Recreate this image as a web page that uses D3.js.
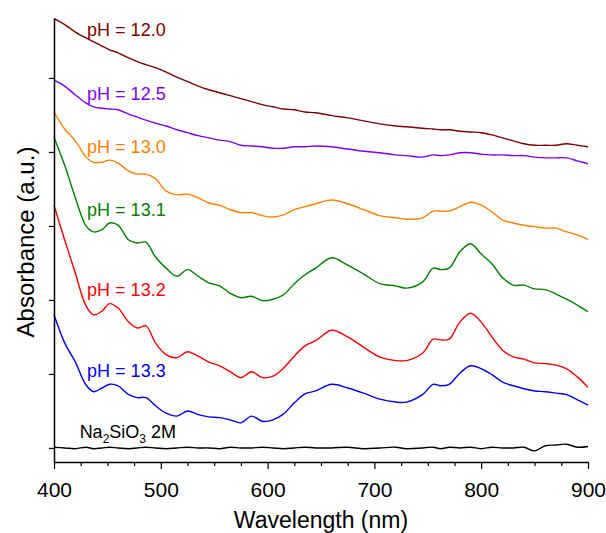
<!DOCTYPE html>
<html>
<head>
<meta charset="utf-8">
<script src="https://cdn.jsdelivr.net/npm/d3@7/dist/d3.min.js"></script>
<style>
	body { margin: 0; background: #ffffff; }
	svg text { font-family: 'Liberation Sans', Arial, sans-serif; }
</style>
</head>
<body>
<svg id="chart" width="606" height="533"></svg>
<script>
// Wavelength grid (nm) shared by every spectrum
const wavelengths = [
	400, 410, 420, 430, 437, 445, 452, 460, 470, 478,
	486, 495, 505, 515, 525, 535, 545, 555, 565, 575,
	585, 595, 605, 615, 625, 635, 645, 660, 675, 690,
	705, 720, 730, 745, 755, 762, 770, 780, 790, 800,
	810, 820, 830, 840, 850, 860, 870, 880, 890, 900
];

// Stacked absorbance spectra (a.u., offset for display)
const ph120 = [
	5.80, 5.72, 5.62, 5.54, 5.49, 5.43, 5.38, 5.34, 5.27, 5.22,
	5.18, 5.14, 5.08, 5.01, 4.95, 4.89, 4.84, 4.80, 4.76, 4.72,
	4.68, 4.64, 4.61, 4.58, 4.57, 4.54, 4.53, 4.49, 4.46, 4.42,
	4.38, 4.35, 4.34, 4.32, 4.31, 4.30, 4.30, 4.28, 4.27, 4.26,
	4.23, 4.19, 4.15, 4.11, 4.09, 4.09, 4.09, 4.11, 4.09, 4.07
];
const ph125 = [
	4.97, 4.89, 4.77, 4.66, 4.61, 4.59, 4.58, 4.57, 4.51, 4.47,
	4.43, 4.39, 4.35, 4.30, 4.26, 4.22, 4.19, 4.16, 4.14, 4.09,
	4.08, 4.07, 4.05, 4.05, 4.07, 4.07, 4.08, 4.07, 4.04, 4.01,
	3.99, 3.96, 3.95, 3.93, 3.96, 3.95, 3.96, 3.99, 3.99, 3.97,
	3.96, 3.96, 3.95, 3.95, 3.93, 3.92, 3.92, 3.92, 3.88, 3.84
];
const ph130 = [
	4.54, 4.31, 4.15, 3.93, 3.86, 3.86, 3.89, 3.85, 3.74, 3.70,
	3.70, 3.64, 3.47, 3.42, 3.43, 3.38, 3.31, 3.28, 3.22, 3.18,
	3.18, 3.14, 3.12, 3.15, 3.22, 3.26, 3.30, 3.35, 3.30, 3.22,
	3.14, 3.11, 3.09, 3.11, 3.20, 3.20, 3.20, 3.26, 3.32, 3.28,
	3.19, 3.08, 3.04, 3.01, 2.99, 2.97, 2.97, 2.92, 2.88, 2.82
];
const ph131 = [
	4.20, 3.82, 3.38, 3.00, 2.92, 2.95, 3.04, 3.01, 2.81, 2.77,
	2.78, 2.58, 2.43, 2.32, 2.41, 2.32, 2.23, 2.19, 2.09, 2.03,
	2.05, 1.99, 2.01, 2.07, 2.22, 2.34, 2.43, 2.57, 2.47, 2.35,
	2.22, 2.19, 2.16, 2.24, 2.43, 2.41, 2.43, 2.65, 2.76, 2.62,
	2.49, 2.30, 2.20, 2.20, 2.15, 2.14, 2.08, 2.01, 1.93, 1.84
];
const ph132 = [
	3.28, 2.81, 2.36, 1.92, 1.80, 1.85, 1.95, 1.89, 1.70, 1.62,
	1.65, 1.42, 1.26, 1.22, 1.30, 1.24, 1.16, 1.11, 1.03, 0.95,
	1.03, 0.95, 0.97, 1.08, 1.24, 1.38, 1.45, 1.59, 1.50, 1.36,
	1.23, 1.18, 1.18, 1.28, 1.47, 1.46, 1.47, 1.70, 1.82, 1.70,
	1.50, 1.32, 1.23, 1.20, 1.15, 1.14, 1.12, 1.07, 0.96, 0.82
];
const ph133 = [
	1.80, 1.42, 1.16, 0.85, 0.76, 0.81, 0.86, 0.84, 0.72, 0.68,
	0.68, 0.57, 0.47, 0.43, 0.50, 0.45, 0.42, 0.41, 0.38, 0.34,
	0.43, 0.36, 0.38, 0.46, 0.61, 0.73, 0.77, 0.86, 0.81, 0.74,
	0.66, 0.62, 0.62, 0.72, 0.86, 0.84, 0.86, 1.01, 1.11, 1.07,
	0.99, 0.89, 0.84, 0.80, 0.77, 0.76, 0.74, 0.72, 0.65, 0.58
];
const silicate = [
	0.01, 0.00, -0.01, 0.01, -0.01, 0.00, 0.01, 0.00, -0.01, 0.00,
	0.01, 0.00, -0.01, 0.00, 0.01, 0.00, 0.00, -0.01, 0.01, 0.00,
	0.00, 0.01, 0.00, -0.01, 0.00, 0.01, 0.00, 0.00, 0.01, -0.01,
	0.00, 0.01, -0.01, 0.00, 0.01, -0.01, 0.01, 0.00, 0.01, -0.01,
	0.01, 0.00, 0.00, 0.01, -0.04, 0.03, 0.04, 0.05, 0.01, 0.02
];

const seriesLabels = ['pH = 12.0', 'pH = 12.5', 'pH = 13.0', 'pH = 13.1', 'pH = 13.2', 'pH = 13.3'];
const xTickValues = [400, 500, 600, 700, 800, 900];
const yTickValues = [0, 1, 2, 3, 4, 5];

// Series table built from the arrays above
const series = [
	{ label: seriesLabels[0], values: ph120, color: '#800000', at: [431, 5.57] },
	{ label: seriesLabels[1], values: ph125, color: '#8000ff', at: [431, 4.70] },
	{ label: seriesLabels[2], values: ph130, color: '#ff8000', at: [431, 3.99] },
	{ label: seriesLabels[3], values: ph131, color: '#008000', at: [431, 3.14] },
	{ label: seriesLabels[4], values: ph132, color: '#ff0000', at: [431, 2.05] },
	{ label: seriesLabels[5], values: ph133, color: '#0000ff', at: [431, 0.96] },
	{ label: null, values: silicate, color: '#000000' }
];

const svg = d3.select('#chart');
const plot = { left: 54, right: 588, top: 18, bottom: 462 };

const x = d3.scaleLinear().domain([400, 900]).range([plot.left, plot.right]);
const y = d3.scaleLinear().domain([-0.19, 5.81]).range([plot.bottom, plot.top]);

// Spectra (smooth curve through the sampled points)
const line = d3.line()
	.x((d) => x(d[0]))
	.y((d) => y(d[1]))
	.curve(d3.curveCatmullRom.alpha(0.5));

svg.append('g')
	.selectAll('path')
	.data(series)
	.enter()
	.append('path')
	.attr('fill', 'none')
	.attr('stroke', (d) => d.color)
	.attr('stroke-width', 1.4)
	.attr('stroke-linejoin', 'round')
	.attr('d', (d) => line(wavelengths.map((w, i) => [w, d.values[i]])));

// Curve labels
svg.append('g')
	.selectAll('text')
	.data(series.filter((d) => d.label))
	.enter()
	.append('text')
	.attr('x', (d) => x(d.at[0]))
	.attr('y', (d) => y(d.at[1]))
	.attr('font-size', 18)
	.attr('fill', (d) => d.color)
	.text((d) => d.label);

// Na2SiO3 label with subscripts
const naLabel = svg.append('text')
	.attr('x', x(424))
	.attr('y', y(0.135))
	.attr('font-size', 18)
	.attr('fill', '#000');
naLabel.append('tspan').text('Na');
naLabel.append('tspan').attr('font-size', 12).attr('dy', 5).text('2');
naLabel.append('tspan').attr('dy', -5).text('SiO');
naLabel.append('tspan').attr('font-size', 12).attr('dy', 5).text('3');
naLabel.append('tspan').attr('dy', -5).text(' 2M');

// X axis: major and minor ticks
const minorTicks = d3.range(425, 900, 25).filter((v) => v % 100 !== 0);

svg.append('g')
	.attr('transform', `translate(0,${plot.bottom})`)
	.call(d3.axisBottom(x).tickValues(minorTicks).tickSize(4).tickSizeOuter(0).tickFormat(''))
	.call((g) => g.select('.domain').remove())
	.call((g) => g.selectAll('line').attr('stroke-width', 1.2));

const xAxis = svg.append('g')
	.attr('transform', `translate(0,${plot.bottom})`)
	.call(d3.axisBottom(x).tickValues(xTickValues).tickSize(7).tickSizeOuter(0).tickPadding(13));
xAxis.select('.domain').attr('stroke-width', 1.5);
xAxis.selectAll('line').attr('stroke-width', 1.2);
xAxis.selectAll('text')
	.attr('font-size', 21)
	.attr('font-family', "'Liberation Sans', Arial, sans-serif")
	.attr('fill', '#000');

// Y axis: unlabeled ticks
const yAxis = svg.append('g')
	.attr('transform', `translate(${plot.left},0)`)
	.call(d3.axisLeft(y).tickValues(yTickValues).tickSize(5).tickSizeOuter(0).tickFormat(''));
yAxis.select('.domain').attr('stroke-width', 1.5);
yAxis.selectAll('line').attr('stroke-width', 1.2);

// Axis titles
svg.append('text')
	.attr('x', (plot.left + plot.right) / 2)
	.attr('y', 528)
	.attr('text-anchor', 'middle')
	.attr('font-size', 23)
	.text('Wavelength (nm)');

svg.append('text')
	.attr('transform', 'translate(34,242) rotate(-90)')
	.attr('text-anchor', 'middle')
	.attr('font-size', 24)
	.text('Absorbance (a.u.)');
</script>
</body>
</html>
